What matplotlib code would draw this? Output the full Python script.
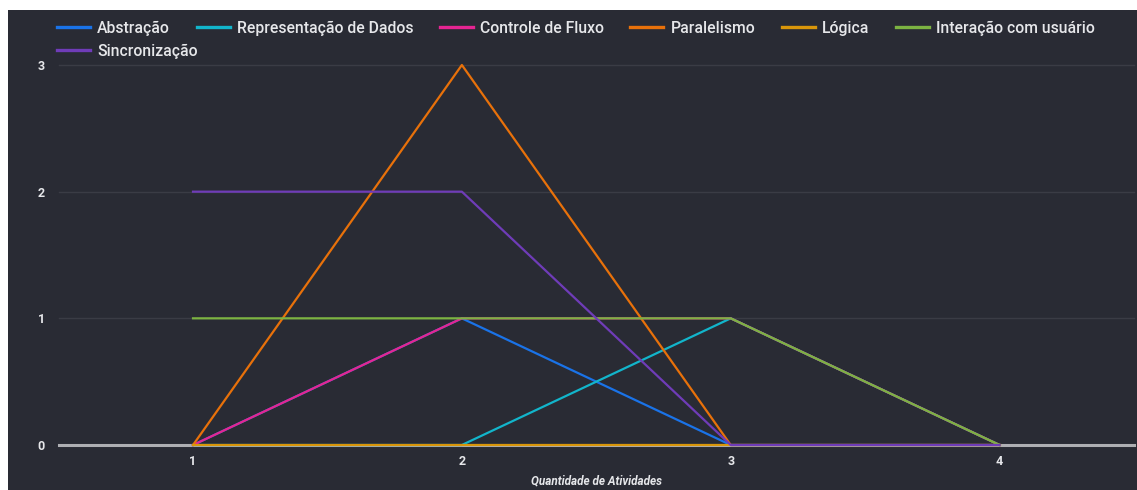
import matplotlib.pyplot as plt
from matplotlib.patches import Rectangle

# data
atividades = [1, 2, 3, 4]
abstracao = [0, 1, 0, 0]
representacao = [0, 0, 1, 0]
controle_fluxo = [0, 1, 1, 0]
paralelismo = [0, 3, 0, 0]
logica = [0, 0, 0, 0]
interacao = [1, 1, 1, 0]
sincronizacao = [2, 2, 0, 0]

labels = ["Abstração", "Representação de Dados", "Controle de Fluxo", "Paralelismo",
          "Lógica", "Interação com usuário", "Sincronização"]
colors = ["#1a73e8", "#12b5cb", "#e52592", "#e8710a", "#d9960a", "#7cb342", "#6f3cb8"]
series = [abstracao, representacao, controle_fluxo, paralelismo, logica, interacao, sincronizacao]

bg = "#292b34"
txt = "#e6e7ea"
plt.rcParams['font.family'] = ['Roboto', 'DejaVu Sans']

fig = plt.figure(figsize=(11.37, 4.9), dpi=100, facecolor="white")
# dark panel (screenshot has a thin white margin top/left)
fig.patches.append(Rectangle((8 / 1137, 0), 1, 1 - 10 / 490, transform=fig.transFigure,
                             facecolor=bg, edgecolor="none", zorder=-5))

ax = fig.add_axes([58.6 / 1137, 1 - 445 / 490, (1134 - 58.6) / 1137, (445 - 65) / 490])
ax.set_facecolor(bg)
ax.set_zorder(2)

lines = []
for vals, lab, c in zip(series, labels, colors):
    l, = ax.plot(atividades, vals, color=c, linewidth=1.6, label=lab, zorder=3, clip_on=False)
    lines.append(l)

# zero baseline and grid
ax.axhline(0, color="#aeafb3", linewidth=2.2, zorder=1, clip_on=False)
for yv in [1, 2, 3]:
    ax.axhline(yv, color="#3a3c45", linewidth=1.0, zorder=1, clip_on=False)

ax.set_xlim(0.5, 4.5)
ax.set_ylim(0, 3)
ax.set_xticks(atividades)
ax.set_yticks([0, 1, 2, 3])
ax.tick_params(length=0, colors=txt, labelsize=9)
ax.tick_params(axis='x', pad=7)
ax.tick_params(axis='y', pad=10)
for lab in ax.get_xticklabels() + ax.get_yticklabels():
    lab.set_fontweight("bold")
for s in ax.spines.values():
    s.set_visible(False)

ax.set_xlabel("Quantidade de Atividades", color=txt, fontsize=8.5, style="italic",
              fontweight="bold", labelpad=5)

# legend: first row with six entries, second row with the last one
leg_kw = dict(frameon=False, fontsize=11.3, handlelength=2.1, handletextpad=0.45,
              columnspacing=1.7, borderaxespad=0, borderpad=0, loc="center left")
leg1 = fig.legend(lines[:6], labels[:6], ncol=6, bbox_to_anchor=(57 / 1137, 1 - 28 / 490), **leg_kw)
leg2 = fig.legend(lines[6:], labels[6:], ncol=1, bbox_to_anchor=(57 / 1137, 1 - 51 / 490), **leg_kw)
for leg in (leg1, leg2):
    leg.set_zorder(5)
    for t in leg.get_texts():
        t.set_color(txt)
        t.set_fontweight("medium")
    for h in leg.get_lines():
        h.set_linewidth(2.4)

fig.savefig("out.png", dpi=100, facecolor=fig.get_facecolor())
